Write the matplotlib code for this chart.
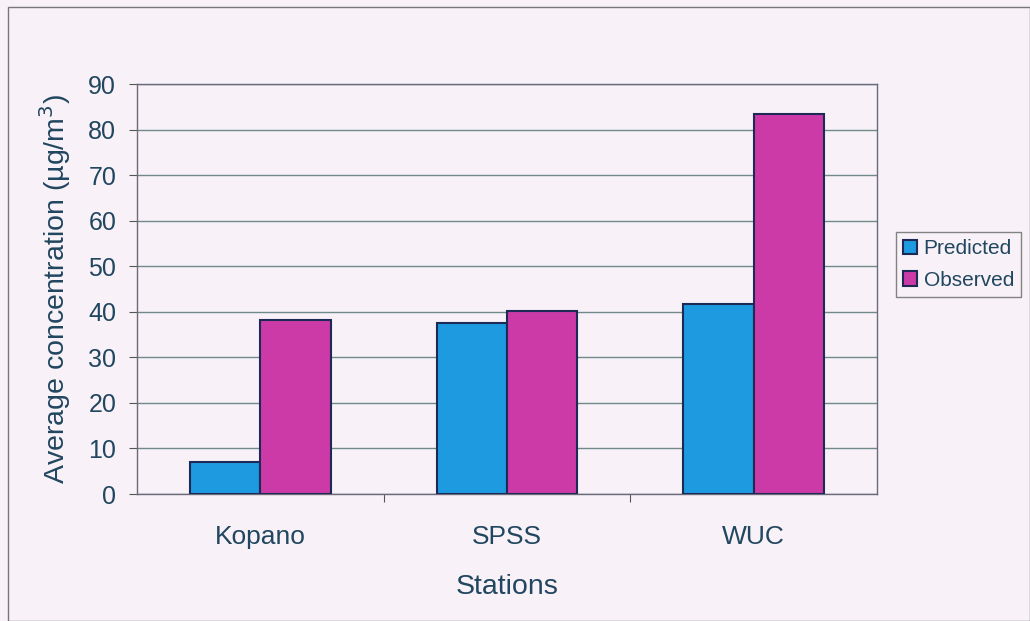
import matplotlib
matplotlib.use("Agg")
import matplotlib.pyplot as plt
import numpy as np
from matplotlib.patches import Rectangle

plt.rcParams['font.family'] = ['Liberation Sans', 'DejaVu Sans']

stations = ["Kopano", "SPSS", "WUC"]
predicted = [7.0, 37.6, 41.7]
observed = [38.2, 40.2, 83.5]
y_ticks = [0, 10, 20, 30, 40, 50, 60, 70, 80, 90]

bg = "#f8f1f8"
blue = "#1e9ae0"
magenta = "#cc3aa8"
edge = "#1c2a55"
grid = "#6f8a8a"
text = "#21465f"

fig = plt.figure(figsize=(10.3, 6.21), dpi=100, facecolor=bg)
fig.patches.append(Rectangle((8 / 1030, 0), 1 - 8 / 1030, 1 - 7 / 621,
                             transform=fig.transFigure, fill=False,
                             edgecolor="#777777", linewidth=1.0))

ax = fig.add_axes([137 / 1030, 1 - 494 / 621, 740 / 1030, 410 / 621])
ax.set_facecolor(bg)

x = np.arange(len(stations))
w = 0.285
ax.bar(x - w / 2, predicted, w, color=blue, edgecolor=edge, linewidth=1.5,
       label="Predicted", zorder=3)
ax.bar(x + w / 2, observed, w, color=magenta, edgecolor=edge, linewidth=1.5,
       label="Observed", zorder=3)

ax.set_xlim(-0.5, 2.5)
ax.set_ylim(0, 90)
ax.set_yticks(y_ticks)
ax.yaxis.grid(True, color=grid, linewidth=1.0, zorder=0)
ax.set_axisbelow(True)

ax.set_xticks([0.5, 1.5], minor=False)
ax.set_xticklabels([])
ax.set_xticks(x, minor=True)
ax.set_xticklabels(stations, minor=True)
ax.tick_params(axis="x", which="major", length=6, color="#555555", direction="out")
ax.tick_params(axis="x", which="minor", length=0, pad=22, labelsize=19, labelcolor=text)
ax.tick_params(axis="y", length=6, color="#555555", labelsize=18, labelcolor=text, pad=9)

for side in ["left", "bottom", "top", "right"]:
    ax.spines[side].set_color("#6a6a7a")
    ax.spines[side].set_linewidth(1.0)

ax.set_xlabel("Stations", fontsize=20.5, color=text, labelpad=18)
ax.set_ylabel("Average concentration (µg/m$^3$)", fontsize=20.5, color=text, labelpad=11)

leg = ax.legend(loc="center left", bbox_to_anchor=(1.011, 0.56), fontsize=15,
                frameon=True, fancybox=False, edgecolor="#666666",
                facecolor=bg, handlelength=0.7, handleheight=0.7,
                handletextpad=0.3, borderpad=0.35, labelspacing=0.6)
for t in leg.get_texts():
    t.set_color(text)

fig.savefig("out.png", dpi=100, facecolor=bg)
